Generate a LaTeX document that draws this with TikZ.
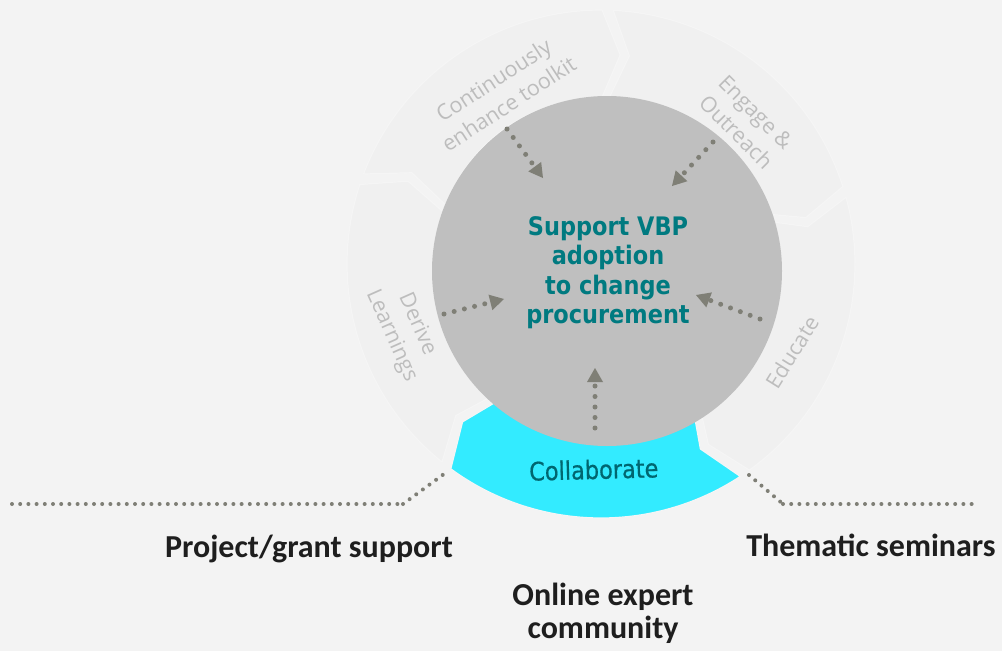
\documentclass[tikz,border=0pt]{standalone}
\usepackage{fontspec}
\setmainfont{Carlito}
\newfontfamily\tah{DejaVu Sans}[FakeStretch=0.88]
\newfontfamily\tahm{DejaVu Sans}[FakeStretch=0.88, FakeBold=0.6]
\newfontfamily\osans{Open Sans}
\usetikzlibrary{arrows.meta}
\definecolor{bg}{HTML}{F3F3F3}
\definecolor{ringc}{HTML}{F0F0F0}
\definecolor{ringedge}{HTML}{F5F5F5}
\definecolor{cyanc}{HTML}{33EBFF}
\definecolor{disc}{HTML}{BFBFBF}
\definecolor{dotc}{RGB}{127,127,118}
\definecolor{tealA}{RGB}{0,122,128}
\definecolor{tealB}{RGB}{0,102,112}
\definecolor{lbl}{HTML}{BDBDBD}
\definecolor{dark}{HTML}{1E1E1E}
\begin{document}
\begin{tikzpicture}[x=1pt,y=-1pt,
  seg/.style={fill=ringc, draw=ringedge, line width=1.2pt},
  cyanseg/.style={fill=cyanc, draw=ringedge, line width=1.2pt},
  dotarrow/.style={draw=dotc, line width=5pt, line cap=round, dash pattern=on 0pt off 10.5pt,
     -{Triangle[length=14pt,width=16pt,line width=0pt]}},
  dotline/.style={draw=dotc, line width=4pt, line cap=round, dash pattern=on 0pt off 8.2pt},
  ringlbl/.style={text=lbl, font=\osans\fontsize{21.5}{28}\selectfont, align=center, inner sep=0pt},
  centerlbl/.style={text=tealA, font=\tah\bfseries\fontsize{25.5}{29}\selectfont, inner sep=0pt, anchor=base},
  bottomlbl/.style={text=dark, font=\bfseries\fontsize{32}{33}\selectfont, inner sep=0pt, anchor=base}
]
\fill[bg] (0,0) rectangle (1002,651);
\useasboundingbox (0,0) rectangle (1002,651);

% ring of chevron segments
\begin{scope}[shift={(601,264)}, y=1pt]
\foreach \c/\s in {196.5/seg, 124.5/seg, 52.5/seg, -19.5/seg, 268.5/cyanseg} {
  \pgfmathsetmacro\hi{\c+34.75}
  \pgfmathsetmacro\lo{\c-34.75}
  \pgfmathsetmacro\tp{\c-39.75}
  \pgfmathsetmacro\nt{\c+29.75}
  \path[\s] (\hi:254) arc[start angle=\hi, end angle=\lo, radius=254] -- (\tp:210) -- (\lo:166)
     arc[start angle=\lo, end angle=\hi, radius=166] -- (\nt:210) -- cycle;
}
\end{scope}

% central disc
\node[circle, fill=disc, minimum size=350pt, inner sep=0pt] (hub) at (607,271) {};

\node[centerlbl] (c1) at (608,235) {Support VBP};
\node[centerlbl] (c2) at (608,264) {adoption};
\node[centerlbl] (c3) at (608,294) {to change};
\node[centerlbl] (c4) at (608,323) {procurement};

% ring labels
\node[ringlbl, rotate=33] (lcont) at (501,92) {Continuously\\enhance toolkit};
\node[ringlbl, rotate=-45] (leng) at (746,122) {Engage \&\\Outreach};
\node[ringlbl, rotate=58] (ledu) at (792,352) {Educate};
\node[ringlbl, rotate=-66] (lder) at (404,330) {Derive\\Learnings};
\node[text=tealB, font=\tahm\fontsize{25.5}{28}\selectfont, inner sep=0pt, anchor=base, rotate=1.5] (lcol) at (594,479) {Collaborate};

% dotted arrows into the disc
\coordinate (a1s) at (507,129); \coordinate (a1e) at (543,178);
\coordinate (a2s) at (713,142); \coordinate (a2e) at (672,186);
\coordinate (a3s) at (444,314); \coordinate (a3e) at (504,299);
\coordinate (a4s) at (760,319); \coordinate (a4e) at (696,295);
\coordinate (a5s) at (595,428); \coordinate (a5e) at (595,368);
\draw[dotarrow] (a1s) -- (a1e);
\draw[dotarrow] (a2s) -- (a2e);
\draw[dotarrow] (a3s) -- (a3e);
\draw[dotarrow] (a4s) -- (a4e);
\draw[dotarrow] (a5s) -- (a5e);

% bottom dotted lines
\coordinate (l1) at (12,504); \coordinate (l2) at (403,504); \coordinate (l3) at (444,474);
\coordinate (r1) at (749,475); \coordinate (r2) at (783,504); \coordinate (r3) at (975,504);
\draw[dotline] (l1) -- (l2);
\draw[dotline] (l2) -- (l3);
\draw[dotline] (r1) -- (r2);
\draw[dotline] (r2) -- (r3);

% bottom labels
\node[bottomlbl] (pgs) at (309,557) {Project/grant support};
\node[bottomlbl] (ts) at (871,556) {Thematic seminars};
\node[bottomlbl] (oe1) at (603,605) {Online expert};
\node[bottomlbl] (oe2) at (603,638) {community};
\end{tikzpicture}
\end{document}
